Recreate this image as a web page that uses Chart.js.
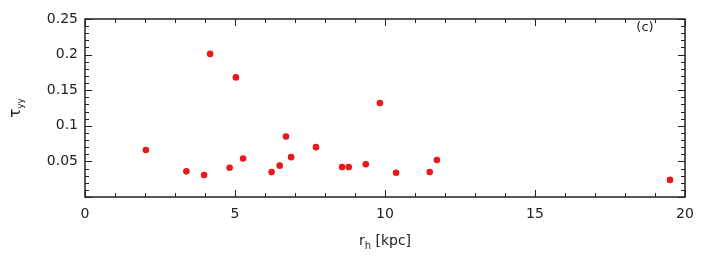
<!DOCTYPE html>
<html>
<head>
<meta charset="utf-8">
<script src="https://cdn.jsdelivr.net/npm/chart.js@4"></script>
<style>
  html, body { margin: 0; padding: 0; background: #fff; }
  #wrap { width: 713px; height: 270px; position: relative; }
</style>
</head>
<body>
<div id="wrap"><canvas id="scatter-c"></canvas></div>
<script>
// r_h [kpc] and tau_yy for each galaxy
const rh = [2.03, 3.38, 3.97, 4.17, 4.82, 5.03, 5.27, 6.22, 6.49, 6.70, 6.87, 7.70, 8.57, 8.79, 9.36, 9.83, 10.37, 11.49, 11.73, 19.5];
const tauYY = [0.066, 0.036, 0.031, 0.201, 0.041, 0.168, 0.054, 0.035, 0.044, 0.085, 0.056, 0.070, 0.042, 0.042, 0.046, 0.132, 0.034, 0.035, 0.052, 0.024];
const xTicks = [0, 5, 10, 15, 20];
const yTicks = [0.05, 0.1, 0.15, 0.2, 0.25];

const points = rh.map((x, i) => ({x: x, y: tauYY[i]}));
const FONT = "'DejaVu Sans', sans-serif";
const INK = '#222';

// gnuplot style: inward ticks on all four sides, minor ticks between
const frameTicks = {
    id: 'frameTicks',
    afterDraw(chart) {
        const ctx = chart.ctx;
        const xs = chart.scales.x, ys = chart.scales.y;
        const a = chart.chartArea;
        ctx.save();
        ctx.strokeStyle = INK;
        ctx.lineWidth = 1;
        for (let v = 0; v <= 20.001; v += 1) {
            const px = Math.round(xs.getPixelForValue(v)) + 0.5;
            const len = (Math.abs(v % 5) < 0.001) ? 7 : 4;
            ctx.beginPath();
            ctx.moveTo(px, a.bottom); ctx.lineTo(px, a.bottom - len);
            ctx.moveTo(px, a.top); ctx.lineTo(px, a.top + len);
            ctx.stroke();
        }
        for (let k = 0; k <= 25; k++) {
            const py = Math.round(ys.getPixelForValue(k / 100)) + 0.5;
            const len = (k % 5 == 0) ? 7 : 4;
            ctx.beginPath();
            ctx.moveTo(a.left, py); ctx.lineTo(a.left + len, py);
            ctx.moveTo(a.right, py); ctx.lineTo(a.right - len, py);
            ctx.stroke();
        }
        ctx.lineWidth = 1.5;
        ctx.strokeRect(a.left, a.top, a.right - a.left, a.bottom - a.top);

        // axis titles with subscripts
        ctx.fillStyle = INK;
        ctx.textBaseline = 'alphabetic';
        ctx.font = '14px ' + FONT;
        const cx = (a.left + a.right) / 2;
        const w1 = ctx.measureText('r').width;
        ctx.font = '10px ' + FONT;
        const w2 = ctx.measureText('h').width;
        ctx.font = '14px ' + FONT;
        const w3 = ctx.measureText(' [kpc]').width;
        let sx = cx - (w1 + w2 + w3) / 2;
        ctx.textAlign = 'left';
        ctx.fillText('r', sx, 245);
        ctx.font = '10px ' + FONT;
        ctx.fillText('h', sx + w1, 249);
        ctx.font = '14px ' + FONT;
        ctx.fillText(' [kpc]', sx + w1 + w2, 245);

        ctx.translate(20, (a.top + a.bottom) / 2);
        ctx.rotate(-Math.PI / 2);
        ctx.font = '15px ' + FONT;
        const t1 = ctx.measureText('τ').width;
        ctx.font = '9px ' + FONT;
        const t2 = ctx.measureText('yy').width;
        ctx.font = '15px ' + FONT;
        ctx.fillText('τ', -(t1 + t2) / 2, 0);
        ctx.font = '9px ' + FONT;
        ctx.fillText('yy', -(t1 + t2) / 2 + t1, 3);
        ctx.restore();

        ctx.save();
        ctx.fillStyle = INK;
        ctx.font = '13px ' + FONT;
        ctx.textAlign = 'center';
        ctx.textBaseline = 'middle';
        ctx.fillText('(c)', 645, 28);
        ctx.restore();
    }
};

new Chart("scatter-c", {
    type: 'scatter',
    data: {
        datasets: [{
            label: "tau_yy",
            data: points,
            backgroundColor: '#e8191a',
            borderColor: '#e8191a',
            pointRadius: 3.3,
            borderWidth: 0
        }]
    },
    options: {
        responsive: true,
        maintainAspectRatio: false,
        animation: false,
        layout: {
            padding: {left: 0, right: 28, top: 19, bottom: 0}
        },
        plugins: {
            legend: { display: false },
            tooltip: { enabled: false }
        },
        scales: {
            x: {
                type: 'linear',
                min: 0,
                max: 20,
                afterBuildTicks: (scale) => { scale.ticks = xTicks.map(v => ({value: v})); },
                afterFit: (scale) => { scale.height = 73; },
                grid: { display: false, drawTicks: false },
                border: { display: false },
                ticks: {
                    padding: 9,
                    color: INK,
                    font: { family: FONT, size: 14 },
                    maxRotation: 0,
                    callback: (v) => String(v)
                }
            },
            y: {
                type: 'linear',
                min: 0,
                max: 0.25,
                afterBuildTicks: (scale) => { scale.ticks = yTicks.map(v => ({value: v})); },
                afterFit: (scale) => { scale.width = 85; },
                grid: { display: false, drawTicks: false },
                border: { display: false },
                ticks: {
                    padding: 7,
                    color: INK,
                    font: { family: FONT, size: 14 },
                    callback: (v) => String(+v.toFixed(2))
                }
            }
        }
    },
    plugins: [frameTicks]
})
</script>
</body>
</html>
